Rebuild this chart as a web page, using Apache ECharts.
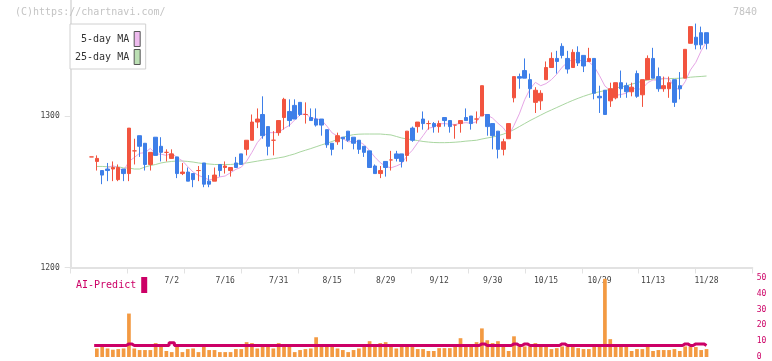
<!DOCTYPE html>
<html>
<head>
<meta charset="utf-8">
<title>7840</title>
<script src="https://cdn.jsdelivr.net/npm/echarts@6.0.0/dist/echarts.min.js"></script>
<style>
html,body{margin:0;padding:0;background:#ffffff;}
#chart{width:772px;height:361px;}
</style>
</head>
<body>
<div id="chart"></div>
<script>
// ---- data ----
const dates = ['6/11','6/12','6/13','6/16','6/17','6/18','6/19','6/20','6/23','6/24','6/25','6/26','6/27','6/30',
 '7/1','7/2','7/3','7/4','7/7','7/8','7/9','7/10','7/11','7/14','7/15','7/16','7/17','7/18','7/22','7/23','7/24','7/25','7/28','7/29','7/30','7/31',
 '8/1','8/4','8/5','8/6','8/7','8/8','8/12','8/13','8/14','8/15','8/18','8/19','8/20','8/21','8/22','8/25','8/26','8/27','8/28','8/29',
 '9/1','9/2','9/3','9/4','9/5','9/8','9/9','9/10','9/11','9/12','9/16','9/17','9/18','9/19','9/22','9/24','9/25','9/26','9/29','9/30',
 '10/1','10/2','10/3','10/6','10/7','10/8','10/9','10/10','10/14','10/15','10/16','10/17','10/20','10/21','10/22','10/23','10/24','10/27','10/28','10/29','10/30','10/31',
 '11/4','11/5','11/6','11/7','11/10','11/11','11/12','11/13','11/14','11/17','11/18','11/19','11/20','11/21','11/25','11/26','11/27','11/28'];

const opens = [1273,1270,1264,1265,1265,1258,1265,1262,1277,1287,
 1282,1268,1286,1280,1276,1272,1273,1262,1263,1262,
 1264,1269,1257,1257,1268,1266,1264,1269,1275,1278,
 1284,1296,1301,1293,1284,1289,1299,1303,1307,1309,
 1301,1299,1298,1298,1291,1282,1283,1286,1290,1286,
 1284,1280,1277,1267,1262,1270,1271,1275,1275,1274,
 1292,1293,1298,1295,1295,1293,1299,1297,1294,1295,
 1299,1300,1298,1300,1301,1295,1290,1278,1285,1312,
 1326,1330,1324,1309,1310,1324,1332,1338,1346,1338,
 1332,1342,1340,1336,1338,1313,1317,1310,1312,1322,
 1320,1316,1328,1314,1324,1338,1326,1318,1318,1324,
 1320,1325,1348,1352,1355,1355];

const closes = [1273,1272,1261,1264,1266,1266,1262,1292,1277,1280,
 1268,1276,1274,1276,1276,1275,1262,1263,1257,1258,
 1264,1255,1255,1261,1264,1267,1266,1266,1268,1284,
 1296,1298,1287,1280,1284,1297,1311,1297,1298,1301,
 1301,1297,1294,1294,1281,1278,1287,1285,1284,1282,
 1278,1276,1266,1262,1264,1266,1271,1272,1270,1290,
 1284,1296,1295,1295,1293,1295,1297,1293,1294,1297,
 1297,1295,1298,1320,1293,1287,1278,1283,1295,1326,
 1325,1325,1318,1317,1315,1332,1338,1336,1340,1331,
 1342,1335,1333,1338,1315,1312,1301,1318,1322,1318,
 1316,1319,1313,1324,1338,1325,1318,1320,1322,1309,
 1318,1344,1359,1347,1347,1348];

const lows = [1273,1264,1255,1257,1257,1257,1257,1257,1268,1273,
 1264,1264,1274,1270,1270,1272,1259,1261,1257,1253,
 1257,1253,1253,1257,1260,1262,1260,1266,1268,1274,
 1284,1292,1285,1274,1274,1287,1291,1293,1298,1300,
 1295,1297,1293,1287,1279,1274,1281,1278,1283,1278,
 1275,1273,1266,1262,1259,1260,1264,1270,1266,1270,
 1283,1289,1291,1291,1289,1289,1293,1289,1285,1289,
 1297,1291,1295,1300,1287,1278,1272,1274,1285,1309,
 1318,1325,1312,1302,1304,1324,1332,1328,1338,1328,
 1332,1333,1329,1336,1311,1302,1301,1306,1311,1312,
 1312,1313,1312,1306,1324,1325,1316,1316,1312,1306,
 1311,1325,1348,1344,1344,1344];

const highs = [1273,1274,1264,1269,1270,1268,1265,1292,1285,1287,
 1282,1276,1286,1286,1278,1278,1273,1269,1266,1262,
 1267,1269,1261,1266,1268,1270,1266,1273,1275,1284,
 1301,1305,1313,1293,1290,1297,1312,1311,1311,1309,
 1309,1305,1305,1298,1291,1282,1289,1286,1290,1286,
 1284,1280,1277,1268,1267,1270,1277,1277,1275,1290,
 1293,1296,1303,1297,1296,1297,1299,1297,1294,1297,
 1305,1300,1303,1320,1301,1295,1290,1285,1295,1326,
 1328,1338,1328,1319,1317,1336,1342,1343,1348,1343,
 1344,1346,1340,1345,1338,1320,1317,1322,1322,1330,
 1322,1322,1330,1324,1340,1345,1332,1326,1326,1324,
 1329,1344,1359,1361,1359,1355];

const ma5 = [null,null,null,1266,1267.2,1265.8,1263.8,1270.0,1272.6,1275.4,
 1275.8,1278.6,1275.0,1274.8,1274.0,1275.4,1272.6,1270.4,1266.6,1263.0,
 1260.8,1259.4,1257.8,1258.6,1259.8,1260.4,1262.6,1264.8,1266.2,1270.2,
 1276.0,1282.4,1286.6,1289.0,1289.0,1289.2,1291.8,1293.8,1297.4,1300.8,
 1301.6,1298.8,1298.2,1297.4,1293.4,1288.8,1286.8,1285.0,1283.0,1283.2,
 1283.2,1281.0,1277.2,1272.8,1269.2,1266.8,1265.8,1267.0,1268.6,1273.8,
 1277.4,1282.4,1287.0,1292.0,1292.6,1294.8,1295.0,1294.6,1294.4,1295.2,
 1295.6,1295.2,1296.2,1301.4,1300.6,1298.6,1295.2,1292.2,1287.2,1293.8,
 1301.4,1310.8,1317.8,1322.2,1320.0,1321.4,1324.0,1327.6,1332.2,1335.4,
 1337.4,1336.8,1336.2,1335.8,1332.6,1326.6,1319.8,1316.8,1313.6,1314.2,
 1315.0,1318.6,1317.6,1318.0,1322.0,1323.8,1323.6,1325.0,1324.6,1318.8,
 1317.4,1322.6,1330.4,1335.4,1343.0,1349.0];

const ma25 = [null,1266.7,1266.7,1266.5,1266.5,1266.5,1265.7,1265.7,1265.0,1265.0,
 1266.3,1267.3,1268.0,1269.0,1269.6,1270.0,1270.3,1270.3,1270.0,1269.6,
 1269.0,1268.6,1268.3,1268.0,1268.0,1268.0,1268.0,1268.3,1268.6,1269.0,
 1269.6,1270.2,1270.8,1271.3,1271.8,1272.4,1273.0,1274.0,1275.0,1276.3,
 1277.4,1278.5,1279.7,1280.9,1282.0,1283.2,1284.6,1285.9,1287.0,1287.7,
 1288.0,1288.1,1288.1,1288.1,1288.1,1287.8,1287.5,1286.5,1285.5,1284.8,
 1284.3,1283.8,1283.2,1282.8,1282.5,1282.4,1282.4,1282.5,1282.7,1283.0,
 1283.4,1283.7,1284.0,1284.8,1285.5,1286.1,1287.0,1288.0,1289.5,1291.0,
 1293.0,1295.0,1297.0,1298.8,1300.6,1302.4,1304.0,1305.6,1307.2,1308.8,
 1310.3,1311.7,1313.0,1314.2,1315.2,1316.0,1316.8,1317.6,1318.4,1319.2,
 1320.0,1321.0,1322.0,1323.0,1323.8,1324.3,1324.5,1324.6,1324.7,1324.8,
 1324.9,1325.2,1325.6,1325.9,1326.1,1326.4];

const volumes = [null,5.4,6.7,5.4,4.6,5.0,5.4,27.5,5.4,4.4,
 4.4,4.4,8.8,6.7,3.8,3.1,6.7,3.1,5.0,5.4,
 3.1,6.7,4.4,4.4,3.1,3.1,3.1,5.0,5.0,9.4,
 8.8,5.4,6.7,6.7,5.4,8.8,6.7,6.7,3.1,4.4,
 5.0,5.4,12.5,6.7,6.7,6.7,5.4,4.4,3.1,4.4,
 5.4,6.7,10.0,6.7,8.8,9.4,6.7,5.4,6.7,6.7,
 6.7,5.0,5.0,3.8,3.8,5.6,5.6,5.6,6.7,11.9,
 6.7,6.7,9.4,18.1,10.6,8.8,10.0,6.7,3.8,13.1,
 6.7,6.7,6.7,8.8,6.7,6.7,5.0,5.6,6.7,6.7,
 6.7,5.6,5.0,5.0,6.7,6.7,49.5,11.3,6.7,6.7,
 6.7,3.8,5.0,5.0,6.7,3.8,4.4,4.4,4.4,5.0,
 3.8,6.7,6.7,6.3,4.4,5.0];

const aiPredict = [null,7.3,7.3,7.3,7.3,7.3,7.3,8.3,7.3,7.3,
 7.3,7.3,7.3,7.3,7.3,9.0,7.3,7.3,7.3,7.3,
 7.3,7.3,7.3,7.3,7.3,7.3,7.3,7.3,7.3,7.3,
 7.3,7.3,7.3,7.3,7.3,7.3,7.3,7.3,7.3,7.3,
 7.3,7.3,7.3,7.3,7.3,7.3,7.3,7.3,7.3,7.3,
 7.3,7.3,7.3,7.3,7.3,7.3,7.3,7.3,7.3,7.3,
 7.3,7.3,7.3,7.3,7.3,7.3,7.3,7.3,7.3,7.3,
 7.3,7.3,7.3,8.3,7.3,7.3,7.3,7.3,7.3,8.3,
 7.3,8.3,7.3,7.3,7.3,7.3,7.3,7.3,8.3,7.3,
 7.3,7.3,7.3,7.3,7.3,7.3,7.3,7.3,7.3,7.3,
 7.3,7.3,7.3,7.3,7.3,7.3,7.3,7.3,7.3,7.3,
 7.3,8.3,7.3,8.3,8.3,7.3];

const priceTicks = {min: 1200, max: 1376.57, interval: 100};
const volumeTicks = {min: 0, max: 50, interval: 10};
const firstDateLabel = 15;   // date labels every 10 sessions from 7/2
const dateLabelStep = 10;

// ---- styles ----
const FONT = '"DejaVu Sans Mono", "Liberation Mono", monospace';
const UP = '#f2543f';
const DOWN = '#3e7fe8';
const AXIS = '#e2e2e2';
const MAGENTA = '#cc0066';

const candleData = dates.map((d, i) => [i, opens[i], closes[i], lows[i], highs[i]]);
const toXY = arr => arr.map((v, i) => [i, v]);

const chart = echarts.init(document.getElementById('chart'), null, {renderer: 'canvas'});

chart.setOption({
  animation: false,
  backgroundColor: '#ffffff',
  title: [
    {text: '(C)https://chartnavi.com/', left: 15, top: 7, padding: 0,
     textStyle: {fontFamily: FONT, fontSize: 10, fontWeight: 'normal', color: '#c4c4c4'}},
    {text: '7840', right: 15, top: 7, padding: 0,
     textStyle: {fontFamily: FONT, fontSize: 10, fontWeight: 'normal', color: '#c4c4c4'}}
  ],
  legend: [
    {left: 70, top: 24, orient: 'vertical', align: 'right', padding: [7, 5, 4, 5],
     itemGap: 2, itemWidth: 6, itemHeight: 15, borderColor: '#d0d0d0', borderWidth: 1,
     backgroundColor: '#ffffff', selectedMode: false,
     formatter: n => n.padStart(9, ' '),
     textStyle: {fontFamily: FONT, fontSize: 10, color: '#333'},
     data: [
       {name: '5-day MA', icon: 'rect', itemStyle: {color: '#eebbee', borderColor: '#555', borderWidth: 1}},
       {name: '25-day MA', icon: 'rect', itemStyle: {color: '#bbdfb3', borderColor: '#555', borderWidth: 1}}
     ]},
    {left: 76, top: 277, padding: 0, align: 'right', itemWidth: 6, itemHeight: 16, selectedMode: false,
     textStyle: {fontFamily: FONT, fontSize: 10, color: MAGENTA},
     data: [{name: 'AI-Predict', icon: 'rect', itemStyle: {color: MAGENTA, borderWidth: 0}}]}
  ],
  grid: [
    {left: 70.7, right: 19.7, top: 0, height: 267.5},
    {left: 64.76, right: 17.35, top: 0, height: 267.5},
    {left: 64.76, right: 17.35, top: 278, height: 80}
  ],
  xAxis: [
    {gridIndex: 0, type: 'value', min: 0, max: 12, interval: 1,
     axisLine: {show: true, lineStyle: {color: AXIS, width: 2}},
     axisTick: {show: true, length: 6, lineStyle: {color: AXIS, width: 1}},
     axisLabel: {show: false}, splitLine: {show: false}},
    {gridIndex: 1, type: 'value', min: -5, max: 124, interval: dateLabelStep,
     axisLine: {show: false}, axisTick: {show: false}, splitLine: {show: false},
     axisLabel: {show: true, margin: 9, fontFamily: FONT, fontSize: 8, color: '#444',
       showMaxLabel: false, showMinLabel: false,
       formatter: v => {
         const i = Math.round(v);
         return (i >= firstDateLabel && i < dates.length && (i - firstDateLabel) % dateLabelStep === 0) ? dates[i] : '';
       }}},
    {gridIndex: 2, type: 'value', min: -5, max: 124, show: false}
  ],
  yAxis: [
    {gridIndex: 0, type: 'value', min: priceTicks.min, max: priceTicks.max, interval: priceTicks.interval,
     axisLine: {show: true, lineStyle: {color: AXIS, width: 2}},
     axisTick: {show: true, length: 6, lineStyle: {color: AXIS}},
     axisLabel: {margin: 11, fontFamily: FONT, fontSize: 8, color: '#444', showMaxLabel: false,
       formatter: v => String(Math.round(v))},
     splitLine: {show: false}},
    {gridIndex: 1, type: 'value', min: priceTicks.min, max: priceTicks.max, show: false},
    {gridIndex: 2, type: 'value', position: 'right', min: volumeTicks.min, max: volumeTicks.max, interval: volumeTicks.interval,
     axisLine: {show: false}, axisTick: {show: false}, splitLine: {show: false},
     axisLabel: {margin: 2, fontFamily: FONT, fontSize: 8, color: MAGENTA}}
  ],
  series: [
    {name: '25-day MA', type: 'line', xAxisIndex: 1, yAxisIndex: 1, data: toXY(ma25),
     symbol: 'none', silent: true, z: 2, lineStyle: {color: '#a9d6a0', width: 1}, itemStyle: {color: '#bbdfb3'}},
    {name: '5-day MA', type: 'line', xAxisIndex: 1, yAxisIndex: 1, data: toXY(ma5),
     symbol: 'none', silent: true, z: 2, lineStyle: {color: '#e6a6e6', width: 1}, itemStyle: {color: '#eebbee'}},
    {name: 'price', type: 'candlestick', xAxisIndex: 1, yAxisIndex: 1, data: candleData,
     barWidth: 4, z: 3, silent: true,
     itemStyle: {color: UP, color0: DOWN, borderColor: UP, borderColor0: DOWN, borderColorDoji: UP, borderWidth: 1}},
    {name: 'volume', type: 'bar', xAxisIndex: 2, yAxisIndex: 2, data: toXY(volumes),
     barWidth: 3.7, silent: true, itemStyle: {color: '#f39a42'}},
    {name: 'AI-Predict', type: 'line', xAxisIndex: 2, yAxisIndex: 2, data: toXY(aiPredict),
     step: 'middle', symbol: 'none', silent: true, z: 4,
     lineStyle: {color: MAGENTA, width: 3}, itemStyle: {color: MAGENTA}}
  ]
});
</script>
</body>
</html>
